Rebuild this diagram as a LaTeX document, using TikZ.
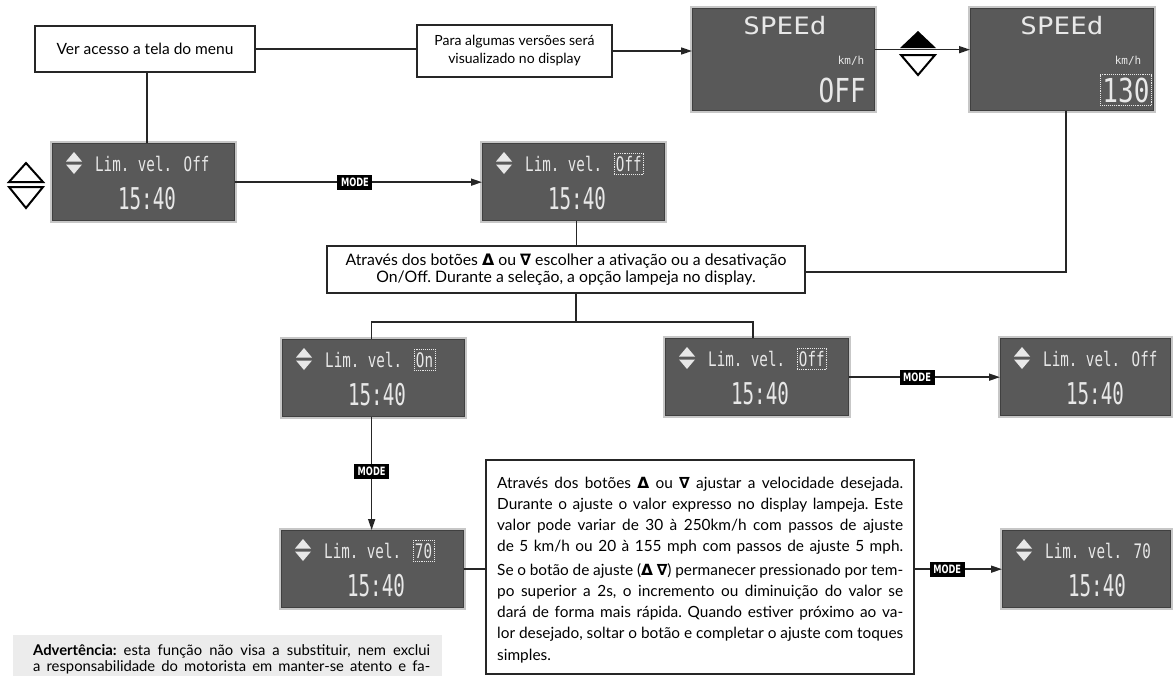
\documentclass[tikz,border=0pt]{standalone}
\usepackage{fontspec}
\usepackage{graphicx}
\setmainfont{Lato}
\newfontfamily\symf{DejaVu Sans}
\newfontfamily\lcdf{DejaVu Sans Mono}
\usetikzlibrary{arrows.meta}
\frenchspacing
\definecolor{lcdbg}{HTML}{595959}
\definecolor{lcdtx}{HTML}{E8E8E8}
\definecolor{warnbg}{HTML}{ECECEC}
\newcommand{\DU}{{\symf\bfseries Δ}}
\newcommand{\DD}{{\symf\bfseries ∇}}
\newcommand{\lcds}[1]{{\fontsize{20}{20}\selectfont\scalebox{0.71}[1]{#1}}}
\newcommand{\lcdb}[1]{{\fontsize{30}{30}\selectfont\scalebox{0.64}[1]{#1}}}
\newcommand{\jl}[1]{\makebox[406pt][s]{#1}}
\newcommand{\jw}[1]{\makebox[397pt][s]{#1}}
\newcommand{\limdisp}[6]{%
  \node[lcd, minimum width=#4pt, minimum height=77pt] (#1) at (#2,#3) {};
  \begin{scope}[shift={(#2,#3)}]
    \fill[lcdtx] (14,18.5) -- (30,18.5) -- (22,9) -- cycle;
    \fill[lcdtx] (14,21.5) -- (30,21.5) -- (22,31) -- cycle;
    \node[lcdtext, anchor=west] (#1-l) at (43,21) {\lcds{Lim. vel.}};
    \node[lcdtext, anchor=west, #6] (#1-v) at (131.5,21) {\lcds{#5}};
    \node[lcdtext] (#1-c) at (95,56) {\lcdb{15:40}};
  \end{scope}}
\begin{document}
\begin{tikzpicture}[x=1pt,y=-1pt,
  conn/.style={line width=1.6pt, draw=black!85},
  arr/.style={conn, -{Triangle[length=11pt,width=7pt]}},
  tbox/.style={draw=black!85, line width=2pt, fill=white, inner sep=0pt},
  lcd/.style={rectangle, draw=black!75, line width=1.3pt, fill=lcdbg, inner sep=0pt, anchor=north west, preaction={draw=black!22, line width=4.5pt}},
  lcdtext/.style={inner sep=0pt, text=lcdtx, font=\lcdf},
  blink/.style={draw=lcdtx, densely dotted, line width=0.9pt, inner xsep=2pt, inner ysep=3pt},
  modebox/.style={fill=black, text=white, inner sep=0pt, minimum width=35pt, minimum height=15pt, font=\symf\bfseries\fontsize{11.5}{11.5}\selectfont},
  symline/.style={line width=2pt, draw=black, line join=miter}
]
\useasboundingbox (0,0) rectangle (1173,675);
\clip (0,0) rectangle (1173,675);
\fill[white] (0,0) rectangle (1173,675);

% top text boxes
\node[tbox, minimum width=220pt, minimum height=46pt, font=\fontsize{15.5}{17}\selectfont] (ver) at (145,49) {Ver acesso a tela do menu};
\node[tbox, minimum width=195pt, minimum height=52pt, align=center, font=\fontsize{14}{18}\selectfont] (para) at (514.5,51) {Para algumas versões será\\visualizado no display};

% SPEEd displays
\node[lcd, minimum width=182pt, minimum height=102pt] (S1) at (692,8) {};
\node[lcdtext] (S1-t) at (785,26) {\fontsize{24}{24}\selectfont\scalebox{1.15}[1]{SPEEd}};
\node[lcdtext] (S1-u) at (851,61) {\fontsize{11}{11}\selectfont km/h};
\node[lcdtext, anchor=east] (S1-v) at (866,90) {\fontsize{33}{33}\selectfont\scalebox{0.79}[1]{OFF}};

\node[lcd, minimum width=183pt, minimum height=102pt] (S2) at (970,8) {};
\node[lcdtext] (S2-t) at (1062,26) {\fontsize{24}{24}\selectfont\scalebox{1.15}[1]{SPEEd}};
\node[lcdtext] (S2-u) at (1128,61) {\fontsize{11}{11}\selectfont km/h};
\node[lcdtext, anchor=east, blink] (S2-v) at (1152,90) {\fontsize{33}{33}\selectfont\scalebox{0.79}[1]{130}};

% Lim. vel. displays
\limdisp{L1}{52}{143}{182}{Off}{}
\limdisp{M1}{482}{143}{182}{Off}{blink}
\limdisp{L2}{282}{339}{182}{On}{blink}
\limdisp{M2}{665}{338}{183}{Off}{blink}
\limdisp{R2}{1000}{338}{170}{Off}{}
\limdisp{L3}{281}{530}{182}{70}{blink}
\limdisp{R3}{1002}{530}{168}{70}{}

% explanation boxes
\node[tbox, minimum width=478pt, minimum height=47pt, align=center, font=\fontsize{15.8}{17}\selectfont] (box1) at (566,269.5) {Através dos botões \DU{} ou \DD{} escolher a ativação ou a desativação\\On/Off. Durante a seleção, a opção lampeja no display.};

\node[tbox, anchor=north west, minimum width=428pt, minimum height=214pt] (big) at (485,459) {};
\node[inner sep=0pt, anchor=base west] (bigtxt) at (497,488) {\parbox[t]{406pt}{\fontsize{15.4}{21.2}\selectfont
\jl{Através dos botões \DU{} ou \DD{} ajustar a velocidade desejada.}\\
\jl{Durante o ajuste o valor expresso no display lampeja. Este}\\
\jl{valor pode variar de 30 à 250km/h com passos de ajuste}\\
\jl{de 5 km/h ou 20 à 155 mph com passos de ajuste 5 mph.}\\[2.5pt]
\jl{Se o botão de ajuste (\DU{} \DD) permanecer pressionado por tem-}\\
\jl{po superior a 2s, o incremento ou diminuição do valor se}\\
\jl{dará de forma mais rápida. Quando estiver próximo ao va-}\\
\jl{lor desejado, soltar o botão e completar o ajuste com toques}\\
simples.}};

% warning box
\node[fill=warnbg, anchor=north west, minimum width=429pt, minimum height=50pt, inner sep=0pt] (warn) at (13,635) {};
\node[inner sep=0pt, anchor=base west] (warntxt) at (33,655) {\parbox[t]{397pt}{\fontsize{14.8}{16}\selectfont
\jw{\textbf{Advertência:} esta função não visa a substituir, nem exclui}\\
\jw{a responsabilidade do motorista em manter-se atento e fa-}}};

% symbols
\draw[symline] (9,182) -- (43,182) -- (26,163) -- cycle;
\draw[symline] (9,187) -- (43,187) -- (26,208) -- cycle;
\fill[black] (900,48) -- (936,48) -- (918,31) -- cycle;
\draw[symline] (901,55) -- (935,55) -- (918,75) -- cycle;

% connectors
\draw[conn] (ver.east) -- (ver.east -| para.west);
\draw[conn] ([xshift=2pt]ver.south) -- ([xshift=2pt]ver.south |- L1.north);
\draw[arr] (para.east) -- (para.east -| S1.west);
\draw[arr] ([yshift=10pt]S1.east) -- ([yshift=10pt]S1.east -| S2.west);
\draw[conn] ([xshift=4pt]S2.south) |- ([yshift=-2.5pt]box1.east);
\draw[arr] (L1.east) -- (L1.east -| M1.west) node[modebox, pos=0.485] (mode1) {\scalebox{0.72}[1]{MODE}};
\draw[conn] ([xshift=3pt]M1.south) -- ([xshift=3pt]M1.south |- box1.north);
\coordinate (split) at (576,322);
\draw[conn] (box1.south -| split) -- (split);
\draw[conn] ([xshift=-2pt]L2.north) |- (split) -| ([xshift=-4pt]M2.north);
\draw[arr] ([xshift=-2pt]L2.south) -- ([xshift=-2pt]L2.south |- L3.north) node[modebox, pos=0.48] (mode2) {\scalebox{0.72}[1]{MODE}};
\draw[arr] (M2.east) -- (M2.east -| R2.west) node[modebox, pos=0.45] (mode3) {\scalebox{0.72}[1]{MODE}};
\draw[conn] (L3.east) -- (L3.east -| big.west);
\draw[arr] (R3.west -| big.east) -- (R3.west) node[modebox, pos=0.37] (mode4) {\scalebox{0.72}[1]{MODE}};
\end{tikzpicture}
\end{document}
